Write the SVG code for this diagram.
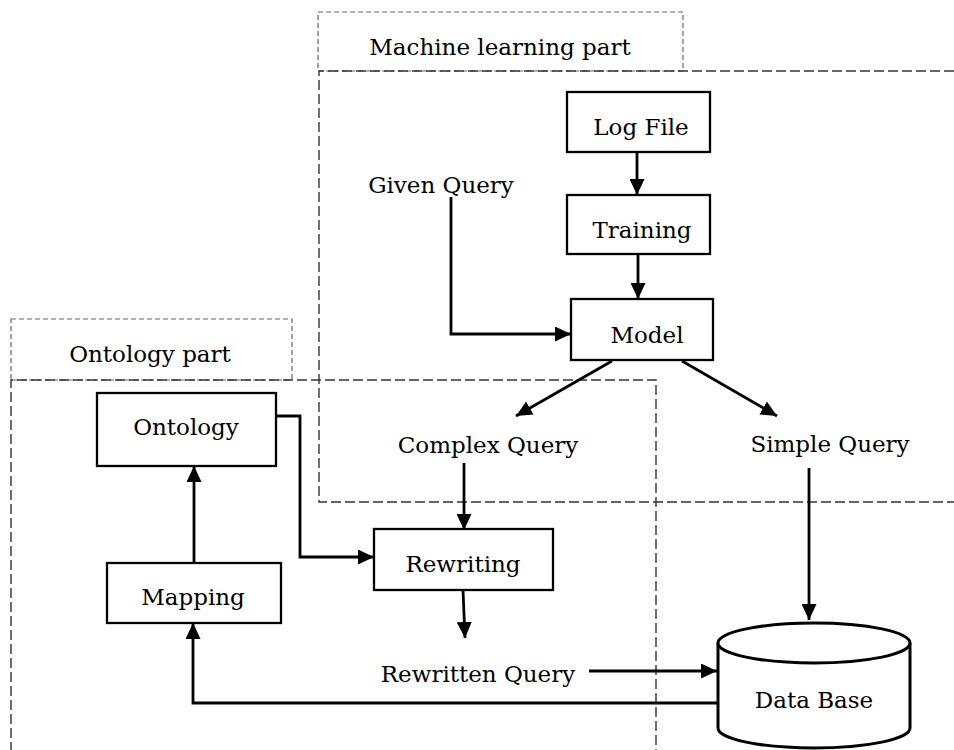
<svg xmlns="http://www.w3.org/2000/svg" width="954" height="750" viewBox="0 0 954 750">
<style>
  text { font-family: "DejaVu Serif", "Liberation Serif", serif; font-size: 23px; fill: #000; text-anchor: middle; }
  .box { fill: #fff; stroke: #000; stroke-width: 2.3; }
  .region { fill: none; stroke: #333; stroke-width: 1.4; stroke-dasharray: 10 4; }
  .head { fill: none; stroke: #666; stroke-width: 1.2; stroke-dasharray: 5 3; }
  .conn { fill: none; stroke: #000; stroke-width: 2.8; }
</style>
<defs>
  <marker id="arr" markerUnits="userSpaceOnUse" markerWidth="16" markerHeight="15" refX="16" refY="7.5" orient="auto">
    <path d="M0,0 L16,7.5 L0,15 z" fill="#000"/>
  </marker>
</defs>
<rect width="954" height="750" fill="#fff"/>

<g id="ml-part">
  <rect class="head" x="318" y="12" width="365" height="59"/>
  <text x="500" y="55">Machine learning part</text>
  <path class="region" d="M954,71 L319,71 L319,502 L954,502"/>
</g>
<g id="ontology-part">
  <rect class="head" x="11" y="319" width="281" height="61"/>
  <text x="150" y="362">Ontology part</text>
  <path class="region" d="M11,752 L11,380 L656,380 L656,752"/>
</g>

<g id="connectors">
  <line class="conn" x1="637" y1="152" x2="637" y2="195" marker-end="url(#arr)"/>
  <line class="conn" x1="638" y1="254" x2="638" y2="299" marker-end="url(#arr)"/>
  <path class="conn" d="M451,197 L451,334 L571,334" marker-end="url(#arr)"/>
  <line class="conn" x1="612" y1="361" x2="516" y2="416" marker-end="url(#arr)"/>
  <line class="conn" x1="682" y1="361" x2="777" y2="416" marker-end="url(#arr)"/>
  <line class="conn" x1="464" y1="463" x2="464" y2="530" marker-end="url(#arr)"/>
  <line class="conn" x1="463" y1="590" x2="465" y2="638" marker-end="url(#arr)"/>
  <line class="conn" x1="589" y1="671" x2="717" y2="671" marker-end="url(#arr)"/>
  <line class="conn" x1="809" y1="468" x2="809" y2="620" marker-end="url(#arr)"/>
  <path class="conn" d="M718,703 L193,703 L193,623" marker-end="url(#arr)"/>
  <line class="conn" x1="194" y1="563" x2="194" y2="466" marker-end="url(#arr)"/>
  <path class="conn" d="M276,416 L300,416 L300,557 L374,557" marker-end="url(#arr)"/>
</g>

<g id="log-file">
  <rect class="box" x="567" y="92" width="143" height="60"/>
  <text x="641" y="135">Log File</text>
</g>
<g id="training">
  <rect class="box" x="567" y="195" width="143" height="59"/>
  <text x="642" y="238">Training</text>
</g>
<g id="model">
  <rect class="box" x="571" y="299" width="142" height="61"/>
  <text x="647" y="343">Model</text>
</g>
<g id="given-query">
  <text x="441" y="193">Given Query</text>
</g>
<g id="complex-query">
  <text x="488" y="453">Complex Query</text>
</g>
<g id="simple-query">
  <text x="830" y="452">Simple Query</text>
</g>
<g id="ontology">
  <rect class="box" x="97" y="393" width="179" height="73"/>
  <text x="186" y="435">Ontology</text>
</g>
<g id="mapping">
  <rect class="box" x="107" y="563" width="174" height="60"/>
  <text x="193" y="605">Mapping</text>
</g>
<g id="rewriting">
  <rect class="box" x="374" y="529" width="179" height="61"/>
  <text x="463" y="572">Rewriting</text>
</g>
<g id="rewritten-query">
  <text x="478" y="682">Rewritten Query</text>
</g>
<g id="data-base">
  <path d="M718,643 L718,728 A96,20 0 0 0 910,728 L910,643" fill="#fff" stroke="#000" stroke-width="3"/>
  <ellipse cx="814" cy="643" rx="96" ry="20" fill="#fff" stroke="#000" stroke-width="3"/>
  <text x="814" y="708">Data Base</text>
</g>
</svg>
